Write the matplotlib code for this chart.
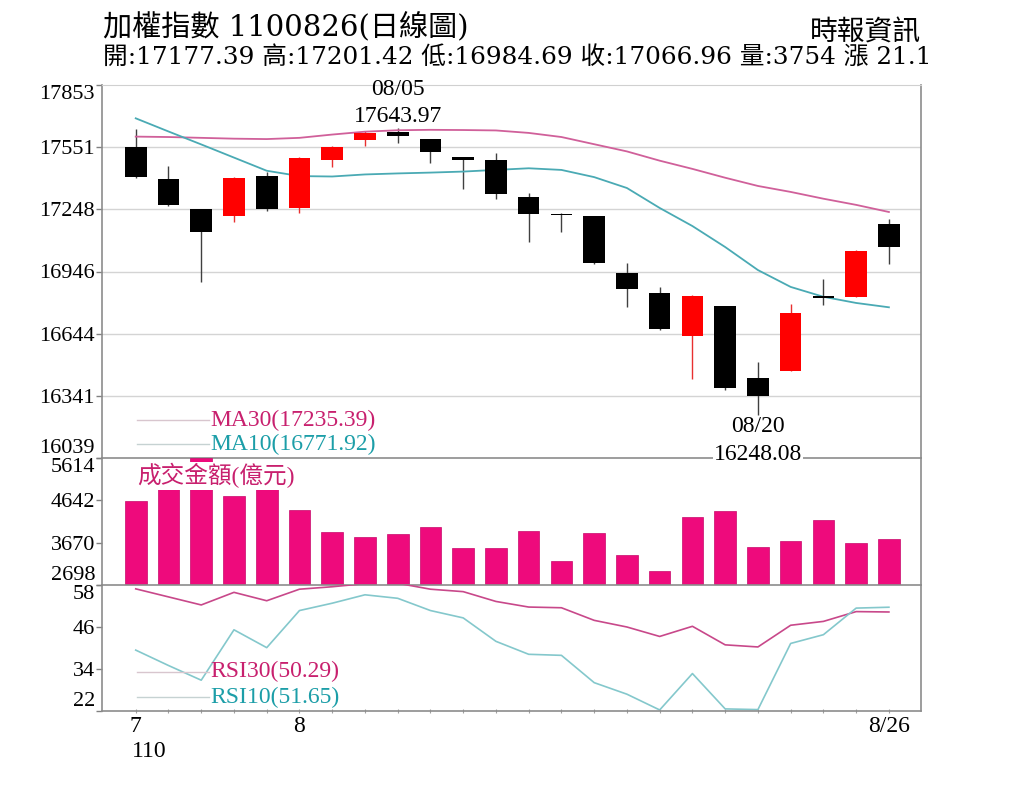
import matplotlib
matplotlib.use('Agg')
import matplotlib.pyplot as plt
import numpy as np
from matplotlib.transforms import blended_transform_factory

plt.rcParams['font.family'] = ['Liberation Serif', 'Noto Sans CJK TC']
TITLE_FONT = ['DejaVu Serif', 'Noto Sans CJK TC']

# 2021/07/26 - 2021/08/26 加權指數 日線
dates = ['07/26', '07/27', '07/28', '07/29', '07/30',
         '08/02', '08/03', '08/04', '08/05', '08/06',
         '08/09', '08/10', '08/11', '08/12', '08/13',
         '08/16', '08/17', '08/18', '08/19', '08/20',
         '08/23', '08/24', '08/25', '08/26']
opens = [17553, 17394, 17250, 17216, 17410, 17256, 17488, 17585, 17623, 17589,
         17501, 17488, 17307, 17226, 17216, 16940, 16840, 16634, 16778, 16430,
         16464, 16826, 16823, 17177.39]
highs = [17638, 17459, 17252, 17405, 17431, 17505, 17555, 17628, 17643.97, 17590,
         17505, 17521, 17326, 17232, 17218, 16989, 16872, 16830, 16780, 16507,
         16788, 16908, 17050, 17201.42]
lows = [17400, 17265, 16896, 17188, 17240, 17232, 17453, 17556, 17569, 17472,
        17347, 17297, 17088, 17140, 16982, 16775, 16660, 16422, 16372, 16248.08,
        16460, 16783, 16820, 16984.69]
closes = [17404, 17269, 17137, 17399, 17248, 17500, 17551, 17621, 17605, 17526,
          17487, 17323, 17226, 17220, 16986, 16860, 16665, 16827, 16378, 16342,
          16743, 16819, 17046, 17066.96]
ma30 = [17602, 17600, 17596, 17592, 17590, 17596, 17612, 17626, 17633, 17635,
        17634, 17632, 17620, 17600, 17565, 17530, 17485, 17445, 17402, 17362,
        17333, 17300, 17270, 17235.39]
ma10 = [17691, 17627, 17564, 17500, 17436, 17410, 17408, 17418, 17423, 17427,
        17432, 17440, 17448, 17440, 17405, 17352, 17255, 17167, 17065, 16953,
        16871, 16823, 16793, 16771.92]
volume = [4633, 5050, 5610, 4748, 5150, 4420, 3908, 3807, 3869, 4030,
          3541, 3541, 3938, 3249, 3885, 3387, 3027, 4252, 4404, 3570,
          3701, 4190, 3662, 3754]
rsi30 = [56.9, 54.6, 52.3, 55.9, 53.5, 56.8, 57.5, 58.4, 58.5, 56.8,
         56.1, 53.3, 51.7, 51.5, 47.9, 46.0, 43.3, 46.2, 40.9, 40.3,
         46.5, 47.6, 50.4, 50.29]
rsi10 = [39.4, 35.0, 30.8, 45.2, 40.1, 50.7, 52.8, 55.2, 54.2, 50.7,
         48.6, 41.9, 38.2, 37.9, 30.1, 26.8, 22.3, 32.7, 22.6, 22.4,
         41.3, 43.8, 51.4, 51.65]

price_ticks = [16039, 16341, 16644, 16946, 17248, 17551, 17853]
vol_ticks = [2698, 3670, 4642, 5614]
rsi_ticks = [22, 34, 46, 58]

RED = '#ff0000'
PINK = '#ee0a7c'
MA30_C = '#d0609a'
MA10_C = '#4aaab4'
TXT_MAG = '#c8206e'
TXT_TEAL = '#1c9ea8'

fig = plt.figure(figsize=(10.24, 7.9), dpi=100)
L, W = 102 / 1024, (921 - 102) / 1024
ax_p = fig.add_axes([L, 1 - 458 / 790, W, 373 / 790])
ax_v = fig.add_axes([L, 1 - 585 / 790, W, 127 / 790])
ax_r = fig.add_axes([L, 1 - 711 / 790, W, 126 / 790])
ax_v.patch.set_visible(False)
ax_r.patch.set_visible(False)

x = np.arange(len(dates))
o, h, l, c = map(np.array, (opens, highs, lows, closes))
up = c > o
cols = np.where(up, RED, '#000000')

# candles
ax_p.vlines(x, l, h, colors=np.where(up, '#e83030', '#404040'), lw=1.0, zorder=2)
ax_p.bar(x, np.maximum(np.abs(c - o), 7), bottom=np.minimum(o, c), width=0.66,
         color=cols, linewidth=0, zorder=3)
ax_p.plot(x, ma30, color=MA30_C, lw=1.3, zorder=2)
ax_p.plot(x, ma10, color=MA10_C, lw=1.3, zorder=2)
ax_p.hlines(price_ticks[1:-1], -2, 30, colors='#d4d4d4', lw=1.0, zorder=0)

# volume
ax_v.bar(x, volume, width=0.66, color=PINK, edgecolor='#c8086a', linewidth=0.5, zorder=2)

# rsi
ax_r.plot(x, rsi30, color='#c8488a', lw=1.2)
ax_r.plot(x, rsi10, color='#84c8cc', lw=1.2)

for ax, ticks in ((ax_p, price_ticks), (ax_v, vol_ticks), (ax_r, rsi_ticks)):
    ax.set_xlim(-1.03, 23.98)
    ax.set_ylim(ticks[0], ticks[-1])
    ax.set_yticks(ticks, [str(t) for t in ticks])
    labs = ax.get_yticklabels()
    labs[0].set_va('bottom')
    labs[-1].set_va('top')
    ax.tick_params(axis='y', length=4, width=1, color='#808080', labelsize=16, pad=1)
    for s in ('left', 'right', 'bottom'):
        ax.spines[s].set_color('#8c8c8c')
        ax.spines[s].set_linewidth(1.2)
    ax.spines['top'].set_visible(False)

ax_p.spines['top'].set_visible(True)
ax_p.spines['top'].set_color('#d0d0d0')
ax_p.set_xticks([])
ax_v.set_xticks([])

xlabels = ['' for _ in dates]
xlabels[0], xlabels[5], xlabels[-1] = '7', '8', '8/26'
ax_r.set_xticks(x, xlabels)
ax_r.tick_params(axis='x', length=3, width=0.8, color='#a0a0a0', labelsize=17, pad=2,
                 direction='inout')

# legends
bp = blended_transform_factory(ax_p.transData, ax_p.transAxes)
br = blended_transform_factory(ax_r.transData, ax_r.transAxes)
for ax, tr, yy, lc, txt, tc in (
        (ax_p, bp, 0.102, '#d8c6ce', 'MA30(17235.39)', TXT_MAG),
        (ax_p, bp, 0.0375, '#c6d2d2', 'MA10(16771.92)', TXT_TEAL),
        (ax_r, br, 0.31, '#d8c6ce', 'RSI30(50.29)', TXT_MAG),
        (ax_r, br, 0.111, '#c6d2d2', 'RSI10(51.65)', TXT_TEAL)):
    ax.plot([0.04, 2.25], [yy, yy], transform=tr, color=lc, lw=1.0, clip_on=False)
    ax.text(2.28, yy, txt, transform=tr, color=tc, fontsize=17, va='center', ha='left')

ax_v.text(0.05, 0.86, '成交金額(億元)', transform=blended_transform_factory(ax_v.transData, ax_v.transAxes),
          color=TXT_MAG, fontsize=17, va='center', ha='left', zorder=5,
          bbox=dict(boxstyle='square,pad=0.05', fc='white', ec='none'))

# high / low annotations
hi = int(np.argmax(h))
lo = int(np.argmin(l))
ax_p.text(hi, 17829, dates[hi], ha='center', va='center', fontsize=17)
ax_p.text(hi, 17702, f'{h[hi]:.2f}', ha='center', va='center', fontsize=17)
ax_p.text(lo, 16190, dates[lo], ha='center', va='center', fontsize=17)
ax_p.text(lo, 16054, f'{l[lo]:.2f}', ha='center', va='center', fontsize=17, zorder=6,
          clip_on=False, bbox=dict(boxstyle='square,pad=0.05', fc='white', ec='none'))

ax_r.text(-0.11, -0.325, '110', transform=br, ha='left', va='center', fontsize=17)

# header
fig.text(103 / 1024, 1 - 26 / 790, '加權指數 1100826(日線圖)', family=TITLE_FONT,
         fontsize=21, ha='left', va='center')
fig.text(103 / 1024, 1 - 58 / 790,
         '開:17177.39 高:17201.42 低:16984.69 收:17066.96 量:3754 漲 21.1',
         family=TITLE_FONT, fontsize=17.8, ha='left', va='center')
fig.text(921 / 1024, 1 - 33 / 790, '時報資訊', family=TITLE_FONT, fontsize=20,
         ha='right', va='center')

fig.savefig('out.png', dpi=100, facecolor='white')
